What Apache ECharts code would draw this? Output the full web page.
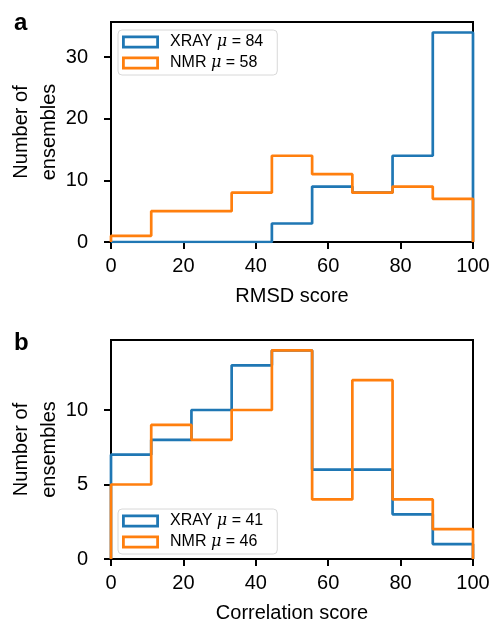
<!DOCTYPE html>
<html lang="en">
<head>
  <meta charset="UTF-8">
  <title>Ensemble scores</title>
  <style>
    html, body { margin: 0; padding: 0; background: #fff; }
  </style>
</head>
<body>
  <div id="main" style="width: 492px;height:621px;"></div>

  <script src="https://cdn.jsdelivr.net/npm/echarts@6/dist/echarts.min.js"></script>
  <script>
    // bin edges shared by both histograms (9 bins over 0..100)
    const edges = [0, 11.11, 22.22, 33.33, 44.44, 55.56, 66.67, 77.78, 88.89, 100];

    // panel a: RMSD score
    const rmsdXray = [0, 0, 0, 0, 3, 9, 8, 14, 34];
    const rmsdNmr = [1, 5, 5, 8, 14, 11, 8, 9, 7];

    // panel b: correlation score
    const corrXray = [7, 8, 10, 13, 14, 6, 6, 3, 1];
    const corrNmr = [5, 9, 8, 10, 14, 4, 12, 4, 2];

    const xTicks = [0, 20, 40, 60, 80, 100];
    const names = ['XRAY μ = 84', 'NMR μ = 58', 'XRAY μ = 41', 'NMR μ = 46'];

    const blue = '#1f77b4';
    const orange = '#ff7f0e';
    const font = 'Liberation Sans, Arial, sans-serif';
    // hollow rectangle used as legend handle
    const ringIcon = 'path://M0,0H37V13H0Z M2.8,2.8V10.2H34.2V2.8Z';

    // outline of a step histogram, like histtype='step'
    const stepPoints = (counts) => {
      const pts = [[edges[0], 0]];
      counts.forEach((c, i) => {
        pts.push([edges[i], c]);
        pts.push([edges[i + 1], c]);
      });
      pts.push([edges[edges.length - 1], 0]);
      return pts;
    };

    const myChart = echarts.init(document.getElementById('main'));

    const xAxisBase = (idx, name) => ({
      type: 'value',
      gridIndex: idx,
      min: xTicks[0],
      max: xTicks[xTicks.length - 1],
      interval: 20,
      name: name,
      nameLocation: 'middle',
      nameGap: 44,
      nameMoveOverlap: false,
      nameTextStyle: { fontSize: 20, color: '#000', fontFamily: font },
      axisLine: { show: true, lineStyle: { color: '#000', width: 2 } },
      axisTick: { show: true, length: 7, lineStyle: { color: '#000', width: 2 } },
      axisLabel: { fontSize: 20, color: '#000', fontFamily: font, margin: 14 },
      splitLine: { show: false }
    });

    const yAxisBase = (idx, max, interval) => ({
      type: 'value',
      gridIndex: idx,
      min: 0,
      max: max,
      interval: interval,
      name: 'Number of\nensembles',
      nameLocation: 'middle',
      nameGap: 48,
      nameMoveOverlap: false,
      nameTextStyle: { fontSize: 20, color: '#000', fontFamily: font, lineHeight: 28 },
      axisLine: { show: true, lineStyle: { color: '#000', width: 2 } },
      axisTick: { show: true, length: 7, lineStyle: { color: '#000', width: 2 } },
      axisLabel: { fontSize: 20, color: '#000', fontFamily: font, margin: 23, showMaxLabel: false },
      splitLine: { show: false }
    });

    const legendBase = (top, n1, n2) => ({
      orient: 'vertical',
      left: 118,
      top: top,
      selectedMode: false,
      itemWidth: 37,
      itemHeight: 13,
      itemGap: 5,
      padding: [4, 14, 4, 4],
      backgroundColor: 'rgba(255,255,255,0.8)',
      borderColor: '#d8d8d8',
      borderWidth: 1,
      borderRadius: 4,
      textStyle: {
        fontSize: 16, color: '#000', fontFamily: font, padding: [0, 0, 0, 6],
        rich: { i: { fontSize: 16, fontStyle: 'italic', fontFamily: 'DejaVu Serif, serif', padding: [0, 0, 0, 0] } }
      },
      formatter: (name) => name.replace('μ', '{i|μ}'),
      data: [
        { name: n1, icon: ringIcon, itemStyle: { color: blue, borderWidth: 0 } },
        { name: n2, icon: ringIcon, itemStyle: { color: orange, borderWidth: 0 } }
      ]
    });

    const histSeries = (name, counts, color, idx) => ({
      name: name,
      type: 'line',
      xAxisIndex: idx,
      yAxisIndex: idx,
      showSymbol: false,
      symbol: 'none',
      data: stepPoints(counts),
      lineStyle: { color: color, width: 2.7 },
      itemStyle: { color: color }
    });

    const gridBase = (top, height) => ({
      left: 111, right: 19, top: top, height: height,
      containLabel: false,
      outerBoundsMode: 'none',
      show: true, borderColor: '#000', borderWidth: 2, backgroundColor: 'transparent'
    });

    const options = {
      animation: false,
      textStyle: { fontFamily: font },
      title: [
        { text: 'a', left: 9, top: 6, textStyle: { fontSize: 24, fontWeight: 'bold', color: '#000', fontFamily: font } },
        { text: 'b', left: 9, top: 326, textStyle: { fontSize: 24, fontWeight: 'bold', color: '#000', fontFamily: font } }
      ],
      grid: [gridBase(22, 220), gridBase(340, 219)],
      xAxis: [xAxisBase(0, 'RMSD score'), xAxisBase(1, 'Correlation score')],
      yAxis: [yAxisBase(0, 35.7, 10), yAxisBase(1, 14.7, 5)],
      legend: [
        legendBase(30, names[0], names[1]),
        legendBase(509, names[2], names[3])
      ],
      series: [
        histSeries(names[0], rmsdXray, blue, 0),
        histSeries(names[1], rmsdNmr, orange, 0),
        histSeries(names[2], corrXray, blue, 1),
        histSeries(names[3], corrNmr, orange, 1)
      ]
    };

    myChart.setOption(options);
  </script>
</body>
</html>
